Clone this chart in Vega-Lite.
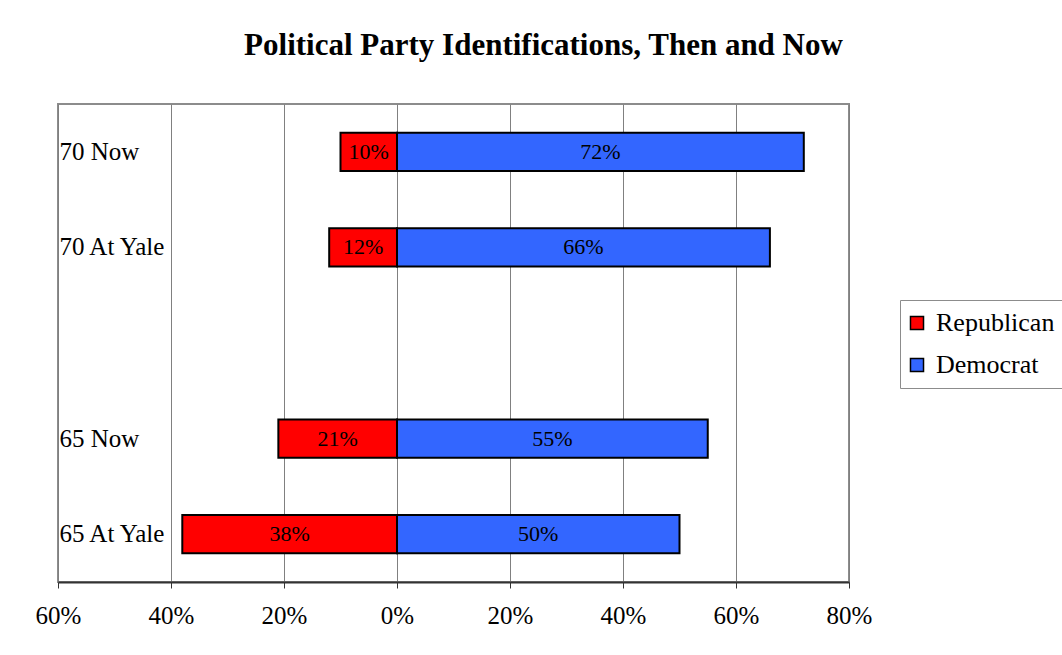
{
  "$schema": "https://vega.github.io/schema/vega-lite/v6.json",
  "width": 791,
  "height": 478,
  "autosize": {"type": "none"},
  "padding": {"left": 58, "top": 104, "right": 213, "bottom": 73},
  "background": "white",
  "title": {
    "text": "Political Party Identifications, Then and Now",
    "font": "Liberation Serif",
    "fontSize": 31,
    "fontWeight": "bold",
    "color": "black",
    "anchor": "middle",
    "dx": 90,
    "offset": 42
  },
  "config": {
    "view": {"stroke": "#8c8c8c", "strokeWidth": 2},
    "font": "Liberation Serif"
  },
  "data": {
    "values": [
      {"group": "70 Now", "party": "Republican", "share": -10},
      {"group": "70 Now", "party": "Democrat", "share": 72},
      {"group": "70 At Yale", "party": "Republican", "share": -12},
      {"group": "70 At Yale", "party": "Democrat", "share": 66},
      {"group": "65 Now", "party": "Republican", "share": -21},
      {"group": "65 Now", "party": "Democrat", "share": 55},
      {"group": "65 At Yale", "party": "Republican", "share": -38},
      {"group": "65 At Yale", "party": "Democrat", "share": 50}
    ]
  },
  "transform": [
    {"calculate": "datum.share / 2", "as": "mid"},
    {"calculate": "abs(datum.share) + '%'", "as": "label"}
  ],
  "encoding": {
    "y": {
      "field": "group",
      "type": "nominal",
      "scale": {
        "domain": ["70 Now", "70 At Yale", "", "65 Now", "65 At Yale"],
        "paddingInner": 0.6,
        "paddingOuter": 0.3
      },
      "axis": {
        "title": null,
        "ticks": false,
        "domain": false,
        "labelAlign": "left",
        "labelPadding": -1,
        "labelFont": "Liberation Serif",
        "labelFontSize": 25,
        "labelColor": "black"
      }
    }
  },
  "layer": [
    {
      "mark": {"type": "bar", "stroke": "black", "strokeWidth": 2},
      "encoding": {
        "x": {
          "field": "share",
          "type": "quantitative",
          "stack": null,
          "scale": {"domain": [-60, 80], "nice": false},
          "axis": {
            "title": null,
            "values": [-60, -40, -20, 0, 20, 40, 60, 80],
            "labelExpr": "abs(datum.value) + '%'",
            "labelFlush": false,
            "labelFont": "Liberation Serif",
            "labelFontSize": 25,
            "labelColor": "black",
            "labelPadding": 15,
            "domainColor": "#333333",
            "domainWidth": 2,
            "tickColor": "#333333",
            "tickSize": 6,
            "grid": true,
            "gridColor": "#808080",
            "gridWidth": 1
          }
        },
        "color": {
          "field": "party",
          "type": "nominal",
          "scale": {
            "domain": ["Republican", "Democrat"],
            "range": ["#ff0000", "#3366ff"]
          },
          "legend": {
            "title": null,
            "orient": "none",
            "legendX": 842,
            "legendY": 196,
            "padding": 10,
            "strokeColor": "#8c8c8c",
            "fillColor": "white",
            "symbolType": "square",
            "symbolSize": 170,
            "symbolStrokeColor": "black",
            "symbolStrokeWidth": 1.5,
            "symbolOpacity": 1,
            "symbolOffset": -6,
            "labelFont": "Liberation Serif",
            "labelFontSize": 26,
            "labelColor": "black",
            "labelOffset": 6,
            "rowPadding": 16
          }
        }
      }
    },
    {
      "mark": {
        "type": "text",
        "font": "Liberation Serif",
        "fontSize": 22,
        "color": "black",
        "baseline": "middle",
        "align": "center"
      },
      "encoding": {
        "x": {"field": "mid", "type": "quantitative"},
        "text": {"field": "label"}
      }
    }
  ]
}
